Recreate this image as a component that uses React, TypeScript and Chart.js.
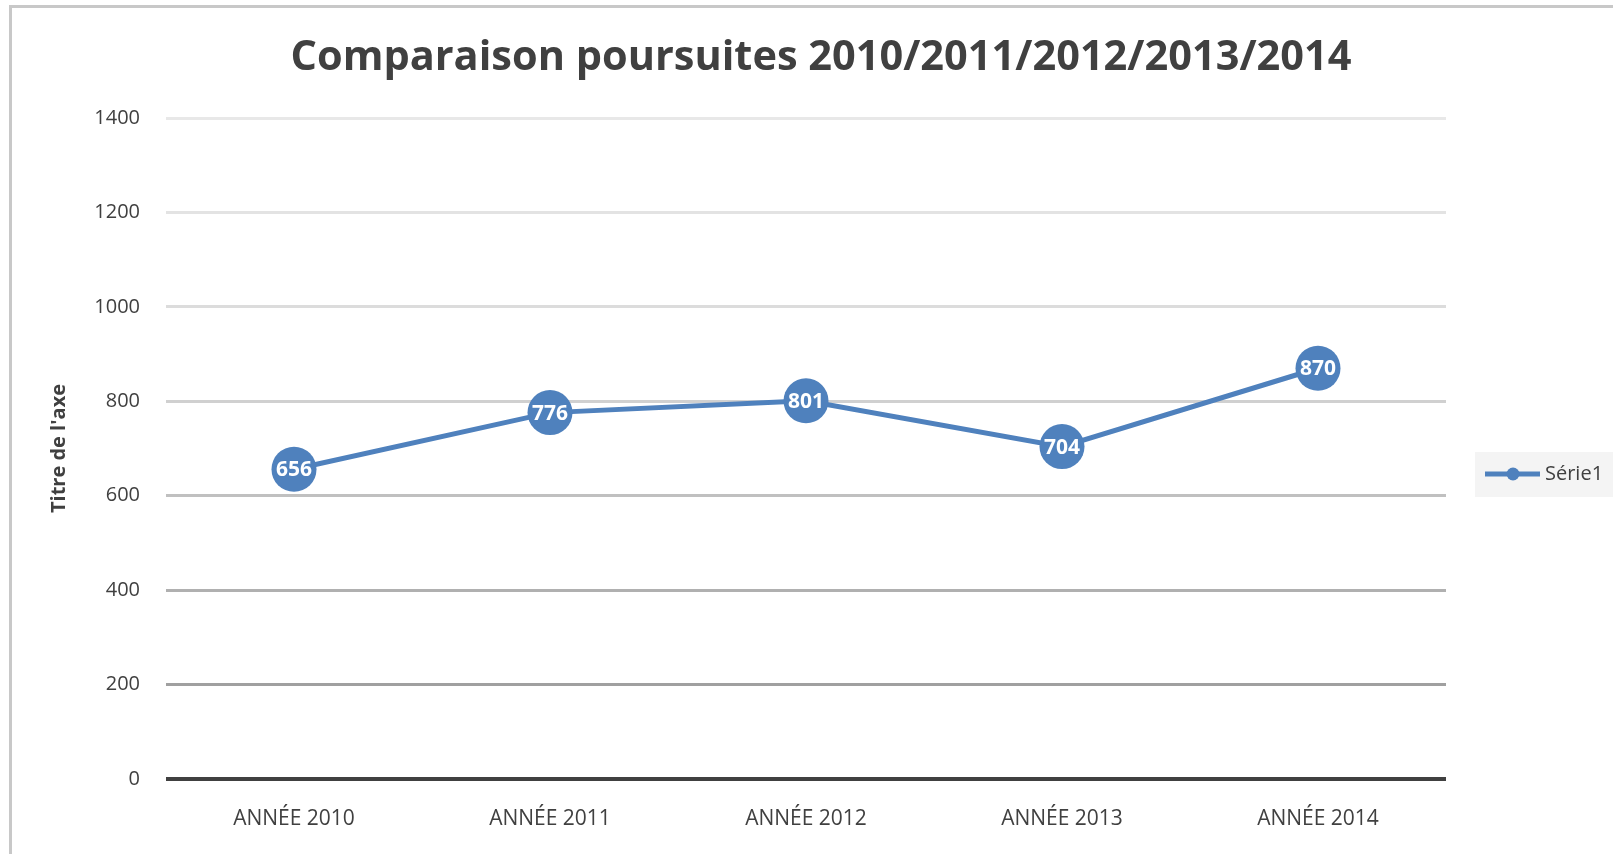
import React, { useEffect, useRef } from "react";
import { Chart, registerables } from "chart.js";

Chart.register(...registerables);

const categories = ["ANNÉE 2010", "ANNÉE 2011", "ANNÉE 2012", "ANNÉE 2013", "ANNÉE 2014"];
const serie1 = [656, 776, 801, 704, 870];
const seriesName = "Série1";
const chartTitle = "Comparaison poursuites 2010/2011/2012/2013/2014";
const yAxisTitle = "Titre de l'axe";
const yMin = 0;
const yMax = 1400;
const yStep = 200;

const BLUE = "#4f81bd";
const TEXT = "#404040";
const FONT = "'Open Sans', 'DejaVu Sans', sans-serif";
const gridColors = ["#404040", "#a0a0a0", "#b0b0b0", "#c0c0c0", "#d0d0d0", "#dcdcdc", "#e3e3e3", "#e8e8e8"];

const decorPlugin = {
  id: "decor",
  beforeDraw(chart: any) {
    const ctx = chart.ctx;
    ctx.save();
    ctx.fillStyle = "#ffffff";
    ctx.fillRect(0, 0, chart.width, chart.height);
    ctx.strokeStyle = "#c8c8c8";
    ctx.lineWidth = 3;
    ctx.beginPath();
    ctx.moveTo(10.5, chart.height);
    ctx.lineTo(10.5, 6.5);
    ctx.lineTo(chart.width, 6.5);
    ctx.stroke();
    ctx.restore();
  },
  afterDraw(chart: any) {
    const ctx = chart.ctx;
    ctx.save();
    ctx.fillStyle = TEXT;
    ctx.font = `bold 41.5px ${FONT}`;
    ctx.textAlign = "center";
    ctx.textBaseline = "middle";
    ctx.fillText(chartTitle, 821, 58);

    const meta = chart.getDatasetMeta(0);
    ctx.font = `bold 21px ${FONT}`;
    ctx.fillStyle = "#ffffff";
    meta.data.forEach((pt: any, i: number) => {
      ctx.fillText(String(serie1[i]), pt.x, pt.y + 1);
    });

    const ly = 474;
    ctx.fillStyle = "#f4f4f4";
    ctx.fillRect(1475, 452, chart.width - 1475, 45);
    ctx.strokeStyle = BLUE;
    ctx.lineWidth = 5;
    ctx.beginPath();
    ctx.moveTo(1485, ly);
    ctx.lineTo(1540, ly);
    ctx.stroke();
    ctx.fillStyle = BLUE;
    ctx.beginPath();
    ctx.arc(1513, ly, 6.5, 0, Math.PI * 2);
    ctx.fill();
    ctx.fillStyle = TEXT;
    ctx.font = `20px ${FONT}`;
    ctx.textAlign = "left";
    ctx.fillText(seriesName, 1545, ly);
    ctx.restore();
  },
};

export default function App() {
  const ref = useRef<HTMLCanvasElement>(null);
  useEffect(() => {
    if (!ref.current) return;
    const chart = new Chart(ref.current, {
      type: "line",
      data: {
        labels: categories,
        datasets: [
          {
            label: seriesName,
            data: serie1,
            borderColor: BLUE,
            backgroundColor: BLUE,
            borderWidth: 5,
            pointRadius: 22.5,
            pointHoverRadius: 22.5,
            pointBackgroundColor: BLUE,
            pointBorderColor: BLUE,
            pointBorderWidth: 0,
            tension: 0,
          },
        ],
      },
      plugins: [decorPlugin],
      options: {
        animation: false,
        responsive: false,
        events: [],
        layout: { padding: { top: 118, right: 167, bottom: 0, left: 0 } },
        plugins: {
          legend: { display: false },
          title: { display: false },
          tooltip: { enabled: false },
        },
        scales: {
          x: {
            type: "category",
            offset: true,
            grid: { display: false, drawTicks: false },
            border: { display: false },
            ticks: { color: TEXT, font: { family: FONT, size: 21 }, padding: 27, maxRotation: 0 },
            afterFit: (s: any) => { s.height = 75; },
          },
          y: {
            min: yMin,
            max: yMax,
            ticks: {
              stepSize: yStep,
              color: TEXT,
              font: { family: FONT, size: 20 },
              padding: 26,
              callback: (v: any) => String(v),
            },
            grid: {
              drawTicks: false,
              color: (c: any) => gridColors[c.index] ?? "#e8e8e8",
              lineWidth: (c: any) => (c.index === 0 ? 4 : 3),
            },
            border: { display: false },
            title: {
              display: true,
              text: yAxisTitle,
              color: TEXT,
              font: { family: FONT, size: 20, weight: "bold" },
              padding: { top: 47, bottom: 0 },
            },
            afterFit: (s: any) => { s.width = 166; },
          },
        },
      },
    });
    return () => chart.destroy();
  }, []);
  return (
    <div style={{ position: "absolute", left: 0, top: 0, width: 1613, height: 854 }}>
      <canvas ref={ref} width={1613} height={854} style={{ width: 1613, height: 854, display: "block" }} />
    </div>
  );
}
